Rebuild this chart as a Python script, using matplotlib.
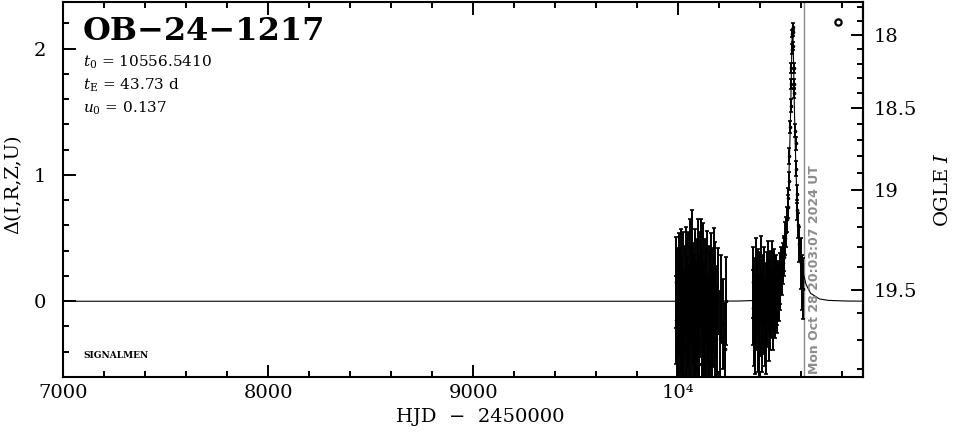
import numpy as np
import matplotlib
matplotlib.use("Agg")
import matplotlib.pyplot as plt
from matplotlib.ticker import MultipleLocator, FixedLocator

plt.rcParams['font.family'] = ['DejaVu Serif']
plt.rcParams['mathtext.fontset'] = 'dejavuserif'

# ---------------- data ----------------
event_name = "OB\u221224\u22121217"
t0_text = "10556.5410"
tE_text = "43.73 d"
u0_text = "0.137"
date_text = "Mon Oct 28 20:03:07 2024 UT"
now_hjd = 10612.3

# season 1 (HJD-2450000, delta mag, error)
s1_t = [9986, 9989, 9992, 9995, 9998, 10001, 10003, 10006, 10008, 10011, 10014, 10016,
        10019, 10021, 10024, 10027, 10029, 10032, 10035, 10037, 10040, 10043, 10045, 10048,
        10050, 10053, 10056, 10058, 10061, 10064, 10066, 10069, 10071, 10074, 10076, 10079,
        10081, 10084, 10087, 10089, 10092, 10094, 10097, 10100, 10102, 10105, 10107, 10110,
        10113, 10115, 10118, 10121, 10123, 10126, 10129, 10131, 10134, 10137, 10139, 10142,
        10145, 10148, 10150, 10153, 10156, 10159, 10162, 10165, 10168, 10171, 10174, 10177,
        10180, 10184, 10189, 10195, 10203, 10210, 10218, 10226, 10234]
s1_d = [-0.15, 0.15, -0.30, 0.05, -0.40, 0.20, -0.05, -0.35, 0.10, -0.20, 0.22, -0.45,
        0.02, -0.25, 0.18, -0.10, -0.38, 0.08, -0.22, 0.25, -0.32, 0.00, -0.15, 0.18,
        -0.42, -0.05, 0.28, -0.25, 0.05, -0.35, 0.35, -0.12, 0.12, -0.48, 0.02, -0.25,
        0.22, -0.05, -0.40, 0.15, -0.18, 0.30, -0.30, 0.00, -0.50, 0.18, -0.10, 0.28,
        -0.35, 0.05, -0.22, 0.25, -0.42, -0.05, 0.15, -0.30, 0.08, -0.45, 0.20, -0.15,
        -0.35, 0.10, -0.25, 0.02, -0.50, 0.18, -0.12, -0.35, 0.05, -0.18, 0.22, -0.40,
        0.12, -0.08, -0.25, 0.08, -0.30, 0.02, -0.18, -0.38, 0.00]
s1_e = [0.35, 0.36, 0.34, 0.37, 0.36, 0.34, 0.38, 0.35, 0.33, 0.37, 0.35, 0.36,
        0.34, 0.36, 0.37, 0.35, 0.34, 0.36, 0.38, 0.34, 0.37, 0.35, 0.36, 0.37,
        0.35, 0.34, 0.37, 0.36, 0.38, 0.35, 0.37, 0.36, 0.34, 0.37, 0.35, 0.38,
        0.35, 0.37, 0.36, 0.34, 0.37, 0.35, 0.38, 0.36, 0.35, 0.37, 0.34, 0.37,
        0.36, 0.35, 0.38, 0.37, 0.35, 0.36, 0.34, 0.37, 0.35, 0.38, 0.36, 0.35,
        0.37, 0.34, 0.36, 0.37, 0.35, 0.36, 0.38, 0.35, 0.37, 0.34, 0.36, 0.37,
        0.35, 0.36, 0.37, 0.34, 0.37, 0.35, 0.36, 0.37, 0.35]

# season 2
s2_t = [10362, 10365, 10368, 10371, 10374, 10377, 10380, 10383, 10386, 10389, 10392, 10395,
        10398, 10401, 10404, 10407, 10410, 10413, 10416, 10419, 10422, 10425, 10428, 10431,
        10434, 10437, 10440, 10443, 10446, 10449, 10452, 10455, 10458, 10461, 10464, 10467,
        10470, 10473, 10476, 10479, 10482, 10485, 10489, 10493, 10497, 10501, 10505, 10509,
        10513, 10517, 10521, 10525, 10529, 10532, 10535, 10538, 10541, 10544, 10547, 10549,
        10551, 10553, 10555, 10556.5, 10558, 10560, 10562, 10564, 10566, 10569, 10571, 10574,
        10577, 10580, 10584, 10590, 10597, 10603, 10608]
s2_d = [-0.05, 0.15, -0.20, 0.05, -0.30, 0.20, -0.10, 0.02, -0.25, 0.12, -0.08, -0.35,
        0.10, -0.15, 0.22, -0.05, -0.28, 0.08, -0.12, 0.15, -0.22, 0.00, -0.30, 0.10,
        -0.08, 0.18, -0.18, 0.05, -0.10, 0.12, -0.02, 0.20, 0.05, -0.12, 0.15, 0.02,
        0.10, -0.05, 0.12, 0.05, -0.02, 0.10, 0.05, 0.18, 0.12, 0.25, 0.22, 0.30,
        0.35, 0.38, 0.50, 0.55, 0.65, 0.75, 0.82, 0.95, 1.15, 1.38, 1.55, 1.72,
        1.85, 2.00, 2.12, 2.17, 2.13, 2.02, 1.85, 1.72, 1.65, 1.35, 1.25, 1.05,
        0.85, 0.72, 0.60, 0.45, 0.30, 0.15, 0.10]
s2_e = [0.30, 0.28, 0.31, 0.29, 0.28, 0.30, 0.29, 0.28, 0.31, 0.29, 0.28, 0.30,
        0.29, 0.28, 0.30, 0.29, 0.28, 0.29, 0.30, 0.28, 0.29, 0.30, 0.28, 0.29,
        0.28, 0.30, 0.29, 0.28, 0.29, 0.28, 0.27, 0.28, 0.26, 0.27, 0.26, 0.25,
        0.26, 0.24, 0.25, 0.24, 0.23, 0.22, 0.21, 0.20, 0.19, 0.18, 0.17, 0.16,
        0.15, 0.14, 0.13, 0.12, 0.10, 0.09, 0.08, 0.07, 0.06, 0.05, 0.05, 0.04,
        0.04, 0.04, 0.03, 0.03, 0.03, 0.03, 0.04, 0.04, 0.04, 0.05, 0.05, 0.06,
        0.07, 0.08, 0.10, 0.14, 0.20, 0.22, 0.24]

# model curve
model_t = [7000, 10000, 10294, 10381.6, 10425.3, 10469.1, 10491, 10504.1, 10512.8, 10521.6,
           10525.9, 10530.3, 10534.7, 10539.05, 10543.4, 10545.6, 10548.0, 10550.0, 10552.2,
           10554.35, 10556.54, 10558.7, 10560.9, 10563.1, 10565.1, 10567.5, 10569.7, 10574.0,
           10578.4, 10582.8, 10587.2, 10591.5, 10600.3, 10609.0, 10622.1, 10644.0, 10687.7,
           10731.5, 10819, 10900]
model_d = [0.0, 0.0, 0.0017, 0.0067, 0.0182, 0.0635, 0.1345, 0.221, 0.314, 0.453,
           0.548, 0.666, 0.815, 1.004, 1.247, 1.395, 1.562, 1.747, 1.938,
           2.099, 2.166, 2.099, 1.938, 1.747, 1.562, 1.395, 1.247, 1.004,
           0.815, 0.666, 0.548, 0.453, 0.314, 0.221, 0.1345, 0.0635, 0.0182,
           0.0067, 0.0017, 0.0008]

legend_pt = (10780, 2.21)

xticks = [7000, 8000, 9000, 10000]
xticklabels = ['7000', '8000', '9000', '10\u2074']
yticks = [0, 1, 2]
mag_ticks = [18, 18.5, 19, 19.5]
mag_ticklabels = ['18', '18.5', '19', '19.5']

# right axis: OGLE I magnitude
I_BASE = 19.55
F_SRC = 0.529

def d2mag(d):
    d = np.asarray(d, dtype=float)
    f = 1.0 + F_SRC * (10 ** (0.4 * d) - 1.0)
    return I_BASE - 2.5 * np.log10(np.clip(f, 1e-6, None))

def mag2d(m):
    m = np.asarray(m, dtype=float)
    f = 1.0 + (10 ** (-0.4 * (m - I_BASE)) - 1.0) / F_SRC
    return 2.5 * np.log10(np.clip(f, 1e-6, None))

# ---------------- figure ----------------
W, H = 966, 434
fig = plt.figure(figsize=(W / 100, H / 100), dpi=100)
ax = fig.add_axes([63 / W, (H - 377) / H, 800 / W, 375 / H])

ax.set_xlim(7000, 10900)
ax.set_ylim(-0.6, 2.37)

ax.plot(model_t, model_d, color='black', lw=0.8, zorder=3)

for t, d, e in ((s1_t, s1_d, s1_e), (s2_t, s2_d, s2_e)):
    ax.errorbar(t, d, yerr=e, fmt='o', ms=1.6, color='black', ecolor='black',
                elinewidth=1.4, capsize=1.5, capthick=1.2, zorder=4)

ax.plot([legend_pt[0]], [legend_pt[1]], 'o', ms=4.5, mfc='white', mec='black', mew=1.6)

ax.axvline(now_hjd, color='#8c8c8c', lw=1.0, zorder=2)
ax.text(now_hjd + 22, -0.58, date_text, rotation=90, color='#8c8c8c',
        fontsize=9, fontweight='bold', family='DejaVu Sans', ha='left', va='bottom')

# ticks
ax.set_xticks(xticks)
ax.set_xticklabels(xticklabels)
ax.xaxis.set_minor_locator(MultipleLocator(200))
ax.set_yticks(yticks)
ax.yaxis.set_minor_locator(MultipleLocator(0.2))
ax.tick_params(which='both', direction='in', top=True, right=False, width=1.4)
ax.tick_params(which='major', length=9, labelsize=14, pad=5)
ax.tick_params(which='minor', length=4.5)
ax.tick_params(axis='y', which='major', pad=12)
for sp in ax.spines.values():
    sp.set_linewidth(1.5)

sec = ax.secondary_yaxis('right', functions=(d2mag, mag2d))
sec.yaxis.set_major_locator(FixedLocator(mag_ticks))
sec.yaxis.set_minor_locator(FixedLocator([17.8, 17.9, 18.1, 18.2, 18.3, 18.4, 18.6, 18.7, 18.8,
                                          18.9, 19.1, 19.2, 19.3, 19.4, 19.6, 19.7, 19.8]))
sec.set_yticklabels(mag_ticklabels)
sec.tick_params(which='both', direction='in', width=1.4)
sec.tick_params(which='major', length=9, labelsize=14, pad=8)
sec.tick_params(which='minor', length=4.5)
sec.spines['right'].set_linewidth(1.5)
sec.set_ylabel('OGLE $I$', fontsize=14, labelpad=12)

ax.set_xlabel('HJD  \u2212  2450000', fontsize=14)
ax.xaxis.set_label_coords((480 - 63) / 800, -(408 - 377) / 375)
ax.set_ylabel('\u0394(I,R,Z,U)', fontsize=14)
ax.yaxis.set_label_coords(-(63 - 22) / 800, (377 - 184) / 375)

# annotations
ax.text(83 / W, 1 - 31 / H, event_name, transform=fig.transFigure, fontsize=23,
        fontweight='bold', ha='left', va='center')
ax.text(83 / W, 1 - 62 / H, r'$t_0$ = ' + t0_text, transform=fig.transFigure,
        fontsize=11, ha='left', va='center')
ax.text(83 / W, 1 - 85 / H, r'$t_\mathrm{E}$ = ' + tE_text, transform=fig.transFigure,
        fontsize=11, ha='left', va='center')
ax.text(83 / W, 1 - 108 / H, r'$u_0$ = ' + u0_text, transform=fig.transFigure,
        fontsize=11, ha='left', va='center')
ax.text(83 / W, 1 - 355 / H, 'SIGNALMEN', transform=fig.transFigure,
        fontsize=6.5, fontweight='bold', ha='left', va='center')

fig.savefig('out.png', dpi=100)
